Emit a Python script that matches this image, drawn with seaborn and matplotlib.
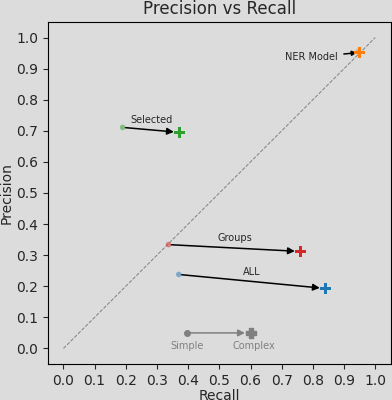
import matplotlib
matplotlib.use("Agg")
import matplotlib.pyplot as plt
import seaborn as sns
import pandas as pd
import numpy as np

models = ["ALL", "NER Model", "Selected", "Groups"]
simple_recall = [0.37, 0.945, 0.19, 0.337]
simple_precision = [0.238, 0.955, 0.711, 0.334]
complex_recall = [0.84, 0.95, 0.372, 0.76]
complex_precision = [0.193, 0.952, 0.695, 0.312]
colors = ["#1f77b4", "#ff7f0e", "#2ca02c", "#d62728"]
ticks = [0.0, 0.1, 0.2, 0.3, 0.4, 0.5, 0.6, 0.7, 0.8, 0.9, 1.0]

sns.set_style("ticks", {"axes.facecolor": "#dcdcdc", "figure.facecolor": "#dcdcdc",
                        "axes.edgecolor": "black"})
plt.rcParams["font.family"] = ["DejaVu Sans"]

fig = plt.figure(figsize=(3.92, 4.0), dpi=100)
ax = fig.add_axes([0.122, 0.09, 0.875, 0.855])

ax.plot([0, 1], [0, 1], ls="--", color="gray", lw=0.7)

df_s = pd.DataFrame({"Recall": simple_recall, "Precision": simple_precision, "model": models})
df_c = pd.DataFrame({"Recall": complex_recall, "Precision": complex_precision, "model": models})
pal = dict(zip(models, colors))
sns.scatterplot(data=df_s, x="Recall", y="Precision", hue="model", palette=pal, s=16,
                alpha=0.5, edgecolor="none", legend=False, ax=ax, zorder=3)
sns.scatterplot(data=df_c, x="Recall", y="Precision", hue="model", palette=pal, s=60,
                marker="P", edgecolor="none", legend=False, ax=ax, zorder=4)

for m, sx, sy, cx, cy in zip(models, simple_recall, simple_precision, complex_recall, complex_precision):
    if m == "NER Model":
        ax.annotate(m, xy=(cx, cy), xytext=(cx - 0.07, cy - 0.015), fontsize=7,
                    ha="right", va="center",
                    arrowprops=dict(arrowstyle="-|>", color="black", lw=1.1, shrinkA=2, shrinkB=2))
    else:
        ax.annotate("", xy=(cx, cy), xytext=(sx, sy),
                    arrowprops=dict(arrowstyle="-|>", color="black", lw=1.1, shrinkA=2, shrinkB=4), zorder=2)
        ax.text((sx + cx) / 2, (sy + cy) / 2 + 0.015, m, fontsize=7, ha="center", va="bottom")

# legend-like key
leg_s = (0.397, 0.05)
leg_c = (0.6, 0.05)
ax.scatter([leg_s[0]], [leg_s[1]], s=16, color="gray", zorder=3)
ax.scatter([leg_c[0]], [leg_c[1]], s=60, marker="P", color="gray", zorder=3)
ax.annotate("", xy=leg_c, xytext=leg_s,
            arrowprops=dict(arrowstyle="-|>", color="gray", lw=1.1, shrinkA=2, shrinkB=4))
ax.text(leg_s[0], leg_s[1] - 0.025, "Simple", color="gray", fontsize=7, ha="center", va="top")
ax.text(leg_c[0] + 0.01, leg_c[1] - 0.025, "Complex", color="gray", fontsize=7, ha="center", va="top")

ax.set_xlim(-0.05, 1.05)
ax.set_ylim(-0.05, 1.05)
ax.set_xticks(ticks)
ax.set_yticks(ticks)
ax.set_xticklabels([f"{t:.1f}" for t in ticks])
ax.set_yticklabels([f"{t:.1f}" for t in ticks])
ax.tick_params(labelsize=10)
ax.set_xlabel("Recall", fontsize=10, labelpad=1)
ax.set_ylabel("Precision", fontsize=10, labelpad=2)
ax.set_title("Precision vs Recall", fontsize=12)
for s in ax.spines.values():
    s.set_visible(True)
    s.set_color("black")

fig.savefig("out.png", dpi=100, facecolor=fig.get_facecolor())
